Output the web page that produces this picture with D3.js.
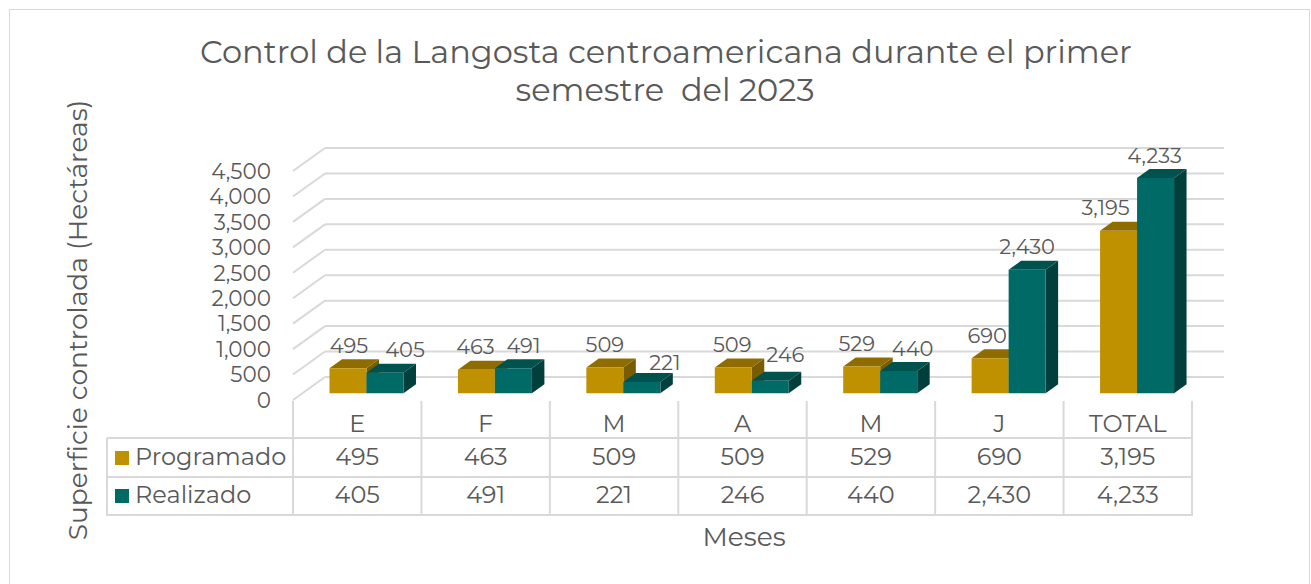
<!DOCTYPE html>
<html>
<head>
<meta charset="utf-8">
<script src="https://cdn.jsdelivr.net/npm/d3@7"></script>
<style>
	body { margin: 0; background: #fff; }
	text { font-family: Montserrat, "DejaVu Sans", sans-serif; fill: #595959; }
</style>
</head>
<body>
<div class="chart"></div>
<script>
const months = ["E", "F", "M", "A", "M", "J", "TOTAL"];
const programado = [495, 463, 509, 509, 529, 690, 3195];
const realizado = [405, 491, 221, 246, 440, 2430, 4233];
const seriesNames = ["Programado", "Realizado"];
const yTicks = [0, 500, 1000, 1500, 2000, 2500, 3000, 3500, 4000, 4500];

// label nudges, Excel moves the small labels around a bit
const nudgeX = [[1, -1, 0, -1, -5, -3, -13], [20, 10, 23, 15, 14, 0, -1]];
const nudgeY = [[0, 0, 0, 0, 0, 0, 0], [0, 0, 3, -3, 0, 0, 0]];

const fmt = d3.format(",");
const colors = [
	{ front: "#bf9000", top: "#8f6c00", side: "#7a5c00" },
	{ front: "#006a66", top: "#00524f", side: "#003f3c" }
];

const svg = d3.select(".chart")
	.append("svg")
	.attr("width", 1311)
	.attr("height", 584);

svg.append("rect")
	.attr("x", 9.5).attr("y", 9.5)
	.attr("width", 1300).attr("height", 590)
	.attr("fill", "#fff")
	.attr("stroke", "#d9d9d9");

// 3d box
const floorY = 400;
const depth = { dx: 32, dy: 23 };
const zFront = 0.29, zBack = 0.68;
const barW = 37;

const scaleX = d3.scaleBand().domain(d3.range(months.length)).range([293, 1192]);
const scaleY = d3.scaleLinear().domain([0, 4500]).range([0, 229]);

const proj = (x, h, z) => [x + z * depth.dx, floorY - h - z * depth.dy];
const poly = (pts) => pts.map((p) => proj(...p).join(",")).join(" ");

const x0 = scaleX.range()[0];
const x1 = scaleX.range()[1];

// gridlines, back wall and left wall
const grid = svg.append("g").attr("class", "grid")
	.attr("stroke", "#d9d9d9").attr("stroke-width", 2).attr("fill", "none");

grid.selectAll(".back")
		.data(yTicks).enter()
	.append("line")
		.attr("x1", (d) => proj(x0, scaleY(d), 1)[0])
		.attr("y1", (d) => proj(x0, scaleY(d), 1)[1])
		.attr("x2", (d) => proj(x1, scaleY(d), 1)[0])
		.attr("y2", (d) => proj(x1, scaleY(d), 1)[1]);

grid.selectAll(".side")
		.data(yTicks).enter()
	.append("line")
		.attr("x1", (d) => proj(x0, scaleY(d), 0)[0])
		.attr("y1", (d) => proj(x0, scaleY(d), 0)[1])
		.attr("x2", (d) => proj(x0, scaleY(d), 1)[0])
		.attr("y2", (d) => proj(x0, scaleY(d), 1)[1]);

// y labels
svg.append("g")
	.selectAll("text")
		.data(yTicks).enter()
	.append("text")
		.attr("x", 271)
		.attr("y", (d) => floorY - scaleY(d))
		.attr("dy", "0.36em")
		.attr("text-anchor", "end")
		.style("font-size", "21.5px")
		.text((d) => fmt(d));

// bars
const bars = [];
months.forEach((m, i) => {
	[programado, realizado].forEach((vals, s) => {
		const left = scaleX(i) + (scaleX.bandwidth() - 2 * barW) / 2 + s * barW;
		bars.push({ i, s, v: vals[i], left, h: scaleY(vals[i]) });
	});
});

const barG = svg.append("g").attr("class", "bars")
	.selectAll("g")
		.data(bars).enter()
	.append("g");

barG.append("polygon")
	.attr("fill", (d) => colors[d.s].side)
	.attr("points", (d) => poly([
		[d.left + barW, 0, zFront], [d.left + barW, 0, zBack],
		[d.left + barW, d.h, zBack], [d.left + barW, d.h, zFront]]));

barG.append("polygon")
	.attr("fill", (d) => colors[d.s].top)
	.attr("points", (d) => poly([
		[d.left, d.h, zFront], [d.left + barW, d.h, zFront],
		[d.left + barW, d.h, zBack], [d.left, d.h, zBack]]));

barG.append("polygon")
	.attr("fill", (d) => colors[d.s].front)
	.attr("points", (d) => poly([
		[d.left, 0, zFront], [d.left + barW, 0, zFront],
		[d.left + barW, d.h, zFront], [d.left, d.h, zFront]]));

// data labels
svg.append("g")
	.selectAll("text")
		.data(bars).enter()
	.append("text")
		.attr("x", (d) => proj(d.left + barW / 2, d.h, zFront)[0] + nudgeX[d.s][d.i])
		.attr("y", (d) => proj(d.left, d.h, zBack)[1] - 14 + nudgeY[d.s][d.i])
		.attr("dy", "0.36em")
		.attr("text-anchor", "middle")
		.style("font-size", "21px")
		.text((d) => fmt(d.v));

// data table
const rows = { top: 401, head: 438, r1: 477, r2: 515 };
const tableLeft = 107;
const table = svg.append("g").attr("class", "table");
const lines = table.append("g").attr("stroke", "#d9d9d9").attr("stroke-width", 2);

[rows.head, rows.r1, rows.r2].forEach((y) => {
	lines.append("line").attr("x1", tableLeft).attr("x2", x1 + 1).attr("y1", y).attr("y2", y);
});
lines.append("line").attr("x1", tableLeft).attr("x2", tableLeft).attr("y1", rows.head).attr("y2", rows.r2 + 1);
lines.selectAll(".col")
		.data(d3.range(months.length + 1)).enter()
	.append("line")
		.attr("x1", (d) => x0 + d * scaleX.bandwidth())
		.attr("x2", (d) => x0 + d * scaleX.bandwidth())
		.attr("y1", rows.top)
		.attr("y2", rows.r2 + 1);

table.selectAll(".month")
		.data(months).enter()
	.append("text")
		.attr("x", (d, i) => scaleX(i) + scaleX.bandwidth() / 2)
		.attr("y", 432)
		.attr("text-anchor", "middle")
		.style("font-size", "24px")
		.text((d) => d);

[programado, realizado].forEach((vals, s) => {
	const base = s === 0 ? 465 : 503;
	table.selectAll(".val" + s)
			.data(vals).enter()
		.append("text")
			.attr("x", (d, i) => scaleX(i) + scaleX.bandwidth() / 2)
			.attr("y", base)
			.attr("text-anchor", "middle")
			.style("font-size", "24px")
			.text((d) => fmt(d));

	table.append("rect")
		.attr("x", 115).attr("y", base - 14)
		.attr("width", 14).attr("height", 14)
		.attr("fill", colors[s].front);

	table.append("text")
		.attr("x", 135)
		.attr("y", base)
		.style("font-size", "24px")
		.text(seriesNames[s]);
});

// titles
svg.append("text")
	.attr("x", 666).attr("y", 63)
	.attr("text-anchor", "middle")
	.style("font-size", "32px")
	.text("Control de la Langosta centroamericana durante el primer");
svg.append("text")
	.attr("x", 665).attr("y", 101)
	.attr("text-anchor", "middle")
	.style("font-size", "32px")
	.style("white-space", "pre")
	.text("semestre  del 2023");

svg.append("text")
	.attr("x", 744).attr("y", 546)
	.attr("text-anchor", "middle")
	.style("font-size", "26.5px")
	.text("Meses");

svg.append("text")
	.attr("transform", "translate(87, 320) rotate(-90)")
	.attr("text-anchor", "middle")
	.style("font-size", "26.5px")
	.text("Superficie controlada (Hectáreas)");
</script>
</body>
</html>
